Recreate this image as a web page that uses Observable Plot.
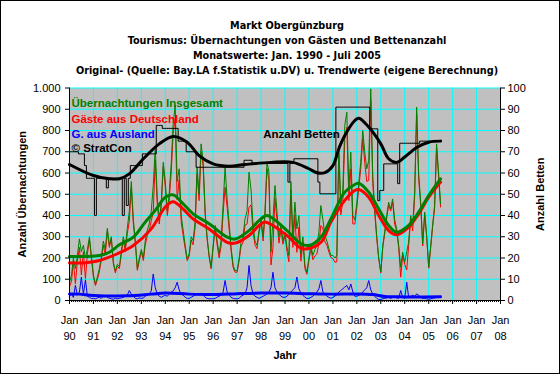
<!DOCTYPE html>
<html><head><meta charset="utf-8">
<script src="https://cdn.jsdelivr.net/npm/d3@7"></script>
<script src="https://cdn.jsdelivr.net/npm/@observablehq/plot@0.6"></script>
<style>
body{margin:0;background:#fff;}
#wrap{position:relative;width:560px;height:374px;overflow:hidden;background:#fff;font-family:"Liberation Sans",Arial,sans-serif;}
#border{position:absolute;left:0;top:0;width:560px;height:374px;box-sizing:border-box;border:1px solid #000;pointer-events:none;}
#title{height:80px;box-sizing:border-box;padding-top:17.5px;padding-left:14px;text-align:center;font-family:"DejaVu Sans",Verdana,sans-serif;font-weight:bold;font-size:9.7px;line-height:15px;color:#000;}
#title div{white-space:nowrap;}
</style></head><body>
<div id="wrap">
<div id="title">
<div>Markt Obergünzburg</div>
<div>Tourismus: Übernachtungen von Gästen und Bettenanzahl</div>
<div>Monatswerte: Jan. 1990 - Juli 2005</div>
<div>Original- (Quelle: Bay.LA f.Statistik u.DV) u. Trendwerte (eigene Berechnung)</div>
</div>
<div id="chart"></div>
<div id="border"></div>
</div>
<script>
// Monthly values Jan 1990 .. Jul 2005
const total = [
 85,120,200,150,210,290,230,260,200,240,300,210,
 120,78,110,150,200,280,240,340,260,300,180,140,
 170,160,230,300,250,340,420,560,380,280,150,200,
 240,200,280,330,360,420,540,720,480,380,460,650,
 560,420,500,640,830,918,560,620,400,330,259,197,
 220,300,282,369,627,500,737,659,420,298,212,157,
 259,353,280,220,282,450,627,480,361,250,165,141,
 141,200,274,300,384,420,604,520,353,280,259,330,
 384,300,420,651,604,227,380,541,416,300,353,280,
 322,250,212,560,300,463,337,400,220,300,165,133,
 200,259,212,240,259,322,447,380,306,280,243,212,
 212,200,212,729,450,520,824,886,520,698,400,380,
 460,560,650,800,700,620,659,996,580,431,300,200,
 134,260,322,400,463,431,478,380,337,260,157,227,
 180,230,275,400,353,510,910,596,463,267,416,306,
 157,259,353,447,737,600,455];
const germany = [
 65,90,185,79,185,250,120,230,103,220,285,200,
 110,70,98,135,190,260,215,325,250,292,174,130,
 162,150,218,285,230,315,373,530,360,270,142,188,
 230,188,260,305,330,375,415,660,450,360,445,630,
 535,400,470,600,785,858,474,570,370,305,244,187,
 210,285,262,344,596,470,702,634,405,288,204,149,
 251,343,265,200,257,410,533,440,336,235,155,133,
 133,190,254,275,354,360,439,450,323,260,244,320,
 369,280,395,621,564,167,247,481,376,270,333,265,
 307,230,182,520,250,403,227,345,185,275,150,123,
 190,244,192,210,219,267,353,340,276,260,228,202,
 197,180,182,689,403,465,761,815,470,620,360,360,
 440,535,620,760,650,560,565,946,550,411,290,195,
 129,252,312,388,448,421,463,360,325,250,110,212,
 170,144,260,380,328,490,879,571,448,257,406,298,
 152,251,343,435,722,582,440];
const abroad = [
 20,30,15,71,25,40,110,30,97,20,15,10,
 10,8,12,15,10,20,25,15,10,8,6,10,
 8,10,12,15,20,25,47,30,20,10,8,12,
 10,12,20,25,30,45,125,60,30,20,15,20,
 25,20,30,40,45,60,86,50,30,25,15,10,
 10,15,20,25,31,30,35,25,15,10,8,8,
 8,10,15,20,25,40,94,40,25,15,10,8,
 8,10,20,25,30,60,165,70,30,20,15,10,
 15,20,25,30,40,60,133,60,40,30,20,15,
 15,20,30,40,50,60,110,55,35,25,15,10,
 10,15,20,30,40,55,94,40,30,20,15,10,
 15,20,30,40,47,55,63,71,50,78,40,20,
 20,25,30,40,50,60,94,50,30,20,10,5,
 5,8,10,12,15,10,15,20,12,10,47,15,
 10,86,15,20,25,20,31,25,15,10,10,8,
 5,8,10,12,15,18,15];
const beds = [
 70,70,70,70,70,69,69,69,63.5,57.5,57.5,57.5,
 57.5,40,57.5,57.5,57.5,57.5,57.5,53,57.5,57.5,57.5,57.5,
 57.5,57.5,57.5,40,57.5,44.7,57.5,63.5,63.5,63.5,63.5,63.5,
 63.5,69,69,69,69,69,69,69,82.4,82.4,82.4,81,
 81,81,81,81,81,81,81,75,75,75,75,70,
 70,70,70,70,62.7,62.7,62.7,62.7,62.7,62.7,62.7,62.7,
 62.7,62.7,62.7,62.7,62.7,62.7,62.7,62.7,62.7,62.7,62.7,62.7,
 62.7,62.7,62.7,62.7,66,66,66,66,64.5,64.5,64.5,64.5,
 64.5,64.5,64.5,64.5,64.5,64.5,64.5,64.5,64.5,64.5,64.5,64.5,
 64.5,64.5,55.7,64.5,64.5,66.7,66.7,66.7,66.7,66.7,66.7,66.7,
 66.7,66.7,66.7,66.7,66.7,55.7,50.2,50.2,50.2,50.2,50.2,50.2,
 50.2,50.2,91,91,91,91,91,91,91,91,91,91,
 91,91,91,91,91,91,91,80.8,80.8,80.8,80.8,47,
 51.8,51.8,64.3,64.3,64.3,64.3,64.3,64.3,64.3,55,74,74,
 74,74,74,74,74,74,74,74,75,75,75,75,
 75,75,75,75,75,75,75];

// Trend values read at dates
const trendTotal = [["1990-01",207],["1990-09",207],["1991-04",212],["1991-09",227],["1992-02",262],["1992-09",298],["1993-03",369],["1993-08",424],["1994-01",486],["1994-05",497],["1994-10",455],["1995-03",408],["1995-11",361],["1996-08",298],["1996-12",289],["1997-07",329],["1997-12",376],["1998-04",400],["1999-02",329],["1999-09",267],["2000-01",259],["2000-07",298],["2000-12",384],["2001-07",510],["2001-12",546],["2002-02",552],["2002-07",510],["2002-12",431],["2003-05",353],["2003-09",321],["2004-03",353],["2004-08",416],["2005-01",494],["2005-07",572]];
const trendGermany = [["1990-01",176],["1990-09",178],["1991-04",188],["1992-01",220],["1992-09",259],["1993-06",337],["1994-01",440],["1994-05",465],["1994-10",430],["1995-03",384],["1995-11",337],["1996-08",274],["1996-12",270],["1997-07",306],["1997-12",353],["1998-03",369],["1999-02",306],["1999-10",243],["2000-07",274],["2000-12",369],["2001-07",471],["2001-12",518],["2002-02",522],["2002-07",486],["2002-12",400],["2003-05",329],["2003-09",309],["2004-03",345],["2004-08",408],["2005-01",486],["2005-07",557]];
const trendAbroad = [["1990-01",31],["1990-06",30],["1991-01",24],["1992-06",22],["1993-06",30],["1994-01",35],["1995-01",30],["1996-01",28],["1997-01",32],["1998-01",35],["1999-01",35],["2000-01",32],["2001-01",30],["2002-01",31],["2002-09",28],["2003-03",19],["2004-01",17],["2005-07",18]];
const trendBeds = [["1990-01",64],["1991-01",58.8],["1991-09",57.3],["1992-02",57.3],["1992-07",59.6],["1993-02",66.7],["1993-10",73.7],["1994-05",77.2],["1994-12",74.5],["1995-06",68.2],["1996-01",64.3],["1996-09",63.2],["1997-05",64],["1998-06",65],["1999-05",65],["2000-01",62],["2000-05",60.1],["2000-09",60.2],["2001-01",63.5],["2001-04",71.4],["2001-07",77.6],["2001-12",84.7],["2002-02",85.8],["2002-07",81.6],["2003-01",73.7],["2003-05",66.7],["2003-09",65],["2004-01",67.5],["2004-07",72],["2005-01",74.5],["2005-07",75]];

// Tick labels
const yearLabels = ["90","91","92","93","94","95","96","97","98","99","00","01","02","03","04","05","06","07","08"];
const leftTicks = [0,100,200,300,400,500,600,700,800,900,1000];
const leftLabels = ["0","100","200","300","400","500","600","700","800","900","1.000"];
const rightLabels = ["0","10","20","30","40","50","60","70","80","90","100"];

const parseM = d3.utcParse("%Y-%m");
const monthDate = i => new Date(Date.UTC(1990, i, 1));
const rows = arr => arr.map((v, i) => ({date: monthDate(i), v}));
const trows = arr => arr.map(([d, v]) => ({date: parseM(d), v}));

const x0 = new Date(Date.UTC(1990,0,1)), x1 = new Date(Date.UTC(2008,0,1));
const yearTicks = yearLabels.map((_, i) => new Date(Date.UTC(1990 + i, 0, 1)));
const yearLab = new Map(yearTicks.map((d, i) => [+d, yearLabels[i]]));
const leftLab = new Map(leftTicks.map((d, i) => [d, leftLabels[i]]));
const rightLab = new Map(leftTicks.map((d, i) => [d, rightLabels[i]]));
const monthTicks = d3.utcMonth.range(x0, new Date(Date.UTC(2008,0,2)));

const GREEN = "#008000", RED = "#FF0000", BLUE = "#0000FF";
const bold = {fontWeight: "bold"};

const chart = Plot.plot({
  width: 560, height: 294,
  marginLeft: 69, marginRight: 60, marginTop: 7.5, marginBottom: 74,
  style: {fontFamily: "Liberation Sans, Arial, sans-serif", fontSize: "11px", color: "#000", background: "transparent", overflow: "visible"},
  x: {type: "utc", domain: [x0, x1]},
  y: {domain: [0, 1000]},
  marks: [
    Plot.frame({fill: "#C0C0C0", stroke: null}),
    Plot.gridY(leftTicks, {stroke: "#00FFFF", strokeOpacity: 1}),
    Plot.gridX(yearTicks, {stroke: "#00FFFF", strokeOpacity: 1}),
    Plot.line(rows(germany), {x: "date", y: "v", stroke: RED, strokeWidth: 1}),
    Plot.line(rows(total), {x: "date", y: "v", stroke: GREEN, strokeWidth: 1}),
    Plot.line(rows(abroad), {x: "date", y: "v", stroke: BLUE, strokeWidth: 1}),
    Plot.line(rows(beds), {x: "date", y: d => d.v * 10, stroke: "#000", strokeWidth: 1, curve: "step"}),
    Plot.line(trows(trendGermany), {x: "date", y: "v", stroke: RED, strokeWidth: 3, curve: "catmull-rom"}),
    Plot.line(trows(trendTotal), {x: "date", y: "v", stroke: GREEN, strokeWidth: 3, curve: "catmull-rom"}),
    Plot.line(trows(trendAbroad), {x: "date", y: "v", stroke: BLUE, strokeWidth: 3, curve: "catmull-rom"}),
    Plot.line(trows(trendBeds), {x: "date", y: d => d.v * 10, stroke: "#000", strokeWidth: 3, curve: "catmull-rom"}),
    Plot.ruleY([0], {stroke: "#000"}),
    Plot.ruleX([x0], {stroke: "#000"}),
    Plot.ruleX([x1], {stroke: "#000"}),
    Plot.axisY(leftTicks, {anchor: "left", tickSize: 4, tickPadding: 5, tickFormat: d => leftLab.get(d), label: null}),
    Plot.axisY(leftTicks, {anchor: "right", tickSize: 4, tickPadding: 3, tickFormat: d => rightLab.get(d), label: null}),
    Plot.axisX(monthTicks, {tickSize: 2, tickFormat: () => "", label: null}),
    Plot.axisX(yearTicks, {tickSize: 4, tickPadding: 12, tickFormat: () => "Jan", label: null}),
    Plot.axisX(yearTicks, {tickSize: 0, tickPadding: 32, tickFormat: d => yearLab.get(+d), label: null}),
    Plot.text(["Übernachtungen Insgesamt"], {text: d => d, frameAnchor: "top-left", dx: 2, dy: 10.5, textAnchor: "start", fill: GREEN, fontSize: 11.5, ...bold}),
    Plot.text(["Gäste aus Deutschland"], {text: d => d, frameAnchor: "top-left", dx: 2, dy: 26.5, textAnchor: "start", fill: RED, fontSize: 11.5, ...bold}),
    Plot.text(["G. aus Ausland"], {text: d => d, frameAnchor: "top-left", dx: 2, dy: 42, textAnchor: "start", fill: BLUE, fontSize: 11.5, ...bold}),
    Plot.text(["© StratCon"], {text: d => d, frameAnchor: "top-left", dx: 2, dy: 56, textAnchor: "start", fill: "#000", fontSize: 11.5, ...bold}),
    Plot.text(["Anzahl Betten"], {text: d => d, frameAnchor: "top-left", dx: 232, dy: 41.5, textAnchor: "middle", fill: "#000", fontSize: 11.5, ...bold}),
    Plot.text(["Anzahl Übernachtungen"], {text: d => d, frameAnchor: "left", textAnchor: "middle", rotate: -90, dx: -47, fontSize: 11, ...bold}),
    Plot.text(["Anzahl Betten"], {text: d => d, frameAnchor: "right", textAnchor: "middle", rotate: -90, dx: 40, fontSize: 11, ...bold}),
    Plot.text(["Jahr"], {text: d => d, frameAnchor: "bottom", dy: 58, fontSize: 11, ...bold})
  ]
});
document.getElementById("chart").appendChild(chart);
</script>
</body></html>
